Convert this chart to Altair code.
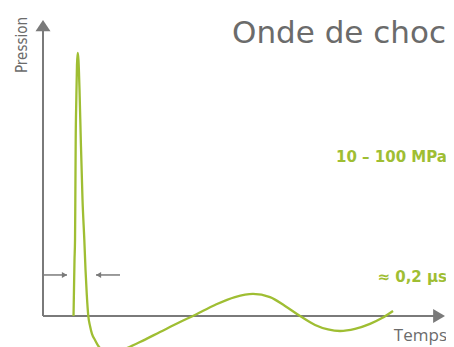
import altair as alt
import pandas as pd

# ---- data (time in µs, pressure in MPa) ----
curve_t = [0.407, 0.413, 0.420, 0.427, 0.431, 0.436, 0.444, 0.453, 0.463, 0.473,
           0.487, 0.504, 0.527, 0.551, 0.567, 0.584, 0.604, 0.627, 0.653, 0.693,
           0.747, 0.827, 0.960, 1.120, 1.293, 1.560, 1.827, 2.027, 2.293, 2.560,
           2.800, 3.027, 3.227, 3.427, 3.627, 3.800, 3.960, 4.160, 4.360, 4.520, 4.667]
curve_p = [0.0, 9.9, 21.3, 28.9, 44.1, 66.9, 82.1, 95.4, 100.0, 97.3,
           85.9, 66.9, 44.1, 28.9, 17.5, 8.0, 0.0, -3.8, -6.8, -9.1,
           -11.8, -13.3, -14.1, -12.2, -9.9, -6.1, -2.3, 0.4, 4.2, 7.2,
           8.4, 7.2, 3.8, 0.0, -3.4, -5.1, -5.7, -4.9, -3.0, -0.8, 1.9]

# axis lines: (t, t2, p, p2)
axis_t = [0.0, 0.0]
axis_t2 = [0.0, 5.22]
axis_p = [0.0, 0.0]
axis_p2 = [110.0, 0.0]

# arrow tips of the axes
head_t = [0.0, 5.36]
head_p = [112.5, 0.0]

# pulse-width markers
width_p = 15.6
width_left = [0.0, 0.32]     # line from, tip
width_right = [1.027, 0.707]  # line from, tip

title_text = "Onde de choc"
peak_label = "10 – 100 MPa"
width_label = "≈ 0,2 µs"
x_label = "Temps"
y_label = "Pression"

GREEN = "#9fbe33"
GRAY = "#7a7a7a"
TEXT_GRAY = "#6b6b6b"

xs = alt.Scale(domain=[-0.4667, 5.3733], nice=False, zero=False)
ys = alt.Scale(domain=[-11.79, 117.11], nice=False, zero=False)

curve = alt.Chart(pd.DataFrame({"t": curve_t, "p": curve_p})).mark_line(
    color=GREEN, strokeWidth=2.3, interpolate="monotone"
).encode(
    x=alt.X("t:Q", scale=xs, axis=None),
    y=alt.Y("p:Q", scale=ys, axis=None),
)

axes = alt.Chart(pd.DataFrame({"t": axis_t, "t2": axis_t2, "p": axis_p, "p2": axis_p2})).mark_rule(
    color=GRAY, strokeWidth=2
).encode(
    x=alt.X("t:Q", scale=xs, axis=None), x2="t2:Q",
    y=alt.Y("p:Q", scale=ys, axis=None), y2="p2:Q",
)

heads = alt.Chart(pd.DataFrame({
    "t": head_t, "p": head_p,
    "shape": ["M0,0L1,1.47L-1,1.47Z", "M0,0L-1.7,-1L-1.7,1Z"],
    "size": [225, 196],
})).mark_point(filled=True, color=GRAY, opacity=1, strokeWidth=0).encode(
    x=alt.X("t:Q", scale=xs, axis=None),
    y=alt.Y("p:Q", scale=ys, axis=None),
    shape=alt.Shape("shape:N", scale=None),
    size=alt.Size("size:Q", scale=None),
)

wdf = pd.DataFrame({"t": [width_left[0], width_right[0]], "t2": [width_left[1], width_right[1]],
                    "p": [width_p, width_p]})
wlines = alt.Chart(wdf).mark_rule(color=GRAY, strokeWidth=1.5).encode(
    x=alt.X("t:Q", scale=xs, axis=None), x2="t2:Q",
    y=alt.Y("p:Q", scale=ys, axis=None),
)
wheads = alt.Chart(pd.DataFrame({
    "t": [width_left[1], width_right[1]], "p": [width_p, width_p],
    "shape": ["M0,0L-1.7,-1L-1.7,1Z", "M0,0L1.7,-1L1.7,1Z"],
})).mark_point(filled=True, color=GRAY, opacity=1, strokeWidth=0, size=36).encode(
    x=alt.X("t:Q", scale=xs, axis=None),
    y=alt.Y("p:Q", scale=ys, axis=None),
    shape=alt.Shape("shape:N", scale=None),
)


def label(text, x, y, size, color, weight="normal", font="DejaVu Sans", align="right", angle=0, baseline="alphabetic"):
    return alt.Chart(pd.DataFrame({"label": [text]})).mark_text(
        fontSize=size, color=color, fontWeight=weight, font=font,
        align=align, baseline=baseline, angle=angle,
    ).encode(text="label:N", x=alt.value(x), y=alt.value(y))


texts = [
    label(title_text, 438, 35, 31, TEXT_GRAY),
    label(peak_label, 439, 154, 15, GREEN, weight="bold"),
    label(width_label, 439, 274, 15, GREEN, weight="bold"),
    label(x_label, 439, 333, 17, TEXT_GRAY, font="Open Sans"),
    label(y_label, 19, 37, 15, TEXT_GRAY, font="Liberation Sans Narrow, DejaVu Sans Condensed, Roboto",
          align="center", angle=270),
]

chart = alt.layer(axes, heads, wlines, wheads, curve, *texts).properties(
    width=438, height=339,
    autosize=alt.AutoSizeParams(type="none"),
    padding=0,
    background="white",
).configure_view(stroke=None)

chart.save("out.html", embed_options={"renderer": "svg", "actions": False})
